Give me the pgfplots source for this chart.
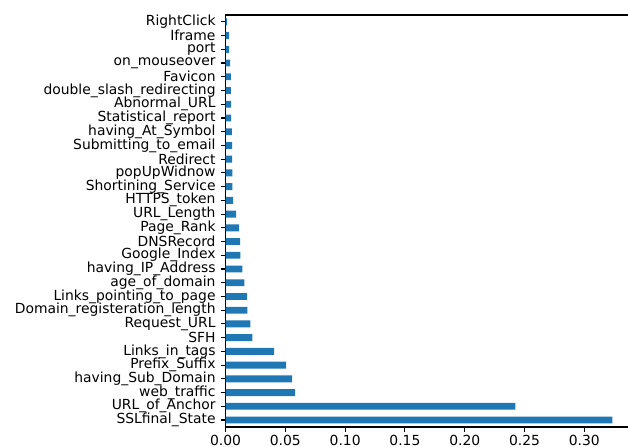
\documentclass[border=0pt]{standalone}
\usepackage{fontspec}
\setmainfont{DejaVu Sans}
\usepackage{pgfplots}
\pgfplotsset{compat=1.18}
\definecolor{mplblue}{HTML}{1F77B4}
\begin{document}
\begin{tikzpicture}
\begin{axis}[
  scale only axis,
  width=289.8pt, height=296.6pt,
  xmin=0, xmax=0.3365, ymin=-0.5, ymax=29.5,
  enlargelimits=false,
  clip=false,
  xbar, bar width=0.5,
  axis x line*=bottom, axis y line*=left,
  axis line style={black, line width=0.9pt, line cap=rect},
  xtick={0,0.05,0.10,0.15,0.20,0.25,0.30},
  ytick={0,...,29},
  yticklabels={SSLfinal\_State,URL\_of\_Anchor,web\_traffic,having\_Sub\_Domain,Prefix\_Suffix,Links\_in\_tags,SFH,Request\_URL,Domain\_registeration\_length,Links\_pointing\_to\_page,age\_of\_domain,having\_IP\_Address,Google\_Index,DNSRecord,Page\_Rank,URL\_Length,HTTPS\_token,Shortining\_Service,popUpWidnow,Redirect,Submitting\_to\_email,having\_At\_Symbol,Statistical\_report,Abnormal\_URL,double\_slash\_redirecting,Favicon,on\_mouseover,port,Iframe,RightClick},
  tick align=outside,
  major tick length=3.5pt,
  tick style={black, line width=0.8pt},
  every tick label/.append style={font=\fontsize{10}{12}\selectfont},
  yticklabel style={inner sep=0pt, xshift=-3.5pt},
  xticklabel style={inner sep=0pt, yshift=-2pt, /pgf/number format/.cd, fixed, fixed zerofill, precision=2},
  /pgf/number format/assume math mode=true,
]
\addplot[fill=mplblue, draw=none] coordinates {
(0.3234,0) (0.2423,1) (0.0581,2) (0.0556,3) (0.0506,4) (0.0406,5)
(0.0224,6) (0.0207,7) (0.0183,8) (0.0181,9) (0.0157,10) (0.0141,11)
(0.0125,12) (0.0123,13) (0.0113,14) (0.0088,15) (0.0063,16) (0.0058,17)
(0.0057,18) (0.0056,19) (0.0055,20) (0.0054,21) (0.0047,22) (0.0046,23)
(0.0045,24) (0.0044,25) (0.0038,26) (0.0029,27) (0.0027,28) (0.0013,29)
};
\draw[black, line width=0.9pt, line cap=rect] (rel axis cs:0,1) -- (rel axis cs:1,1);
\coordinate (ll) at (rel axis cs:0,0);
\coordinate (ur) at (rel axis cs:1,1);
\end{axis}
\pgfresetboundingbox
\path ([xshift=-162.4pt,yshift=-14.4pt]ll) rectangle ([yshift=10.8pt]ur);
\end{tikzpicture}
\end{document}
